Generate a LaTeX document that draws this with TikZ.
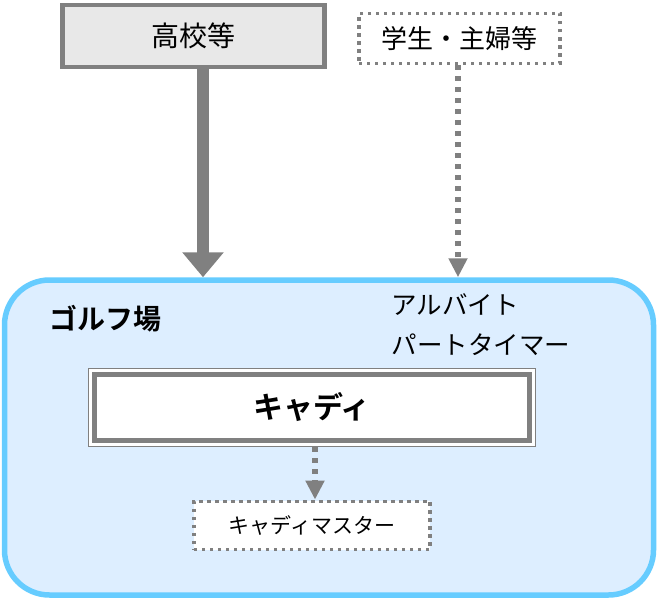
\documentclass[tikz,border=0pt]{standalone}
\usepackage{fontspec}
\setmainfont{Noto Sans CJK JP}[BoldFont={Noto Sans CJK JP Bold}]
\usepackage{xcolor}
\usetikzlibrary{arrows.meta,positioning}
\definecolor{linegray}{HTML}{808080}
\definecolor{srcfill}{HTML}{E8E8E8}
\definecolor{golfline}{HTML}{66CCFF}
\definecolor{golffill}{HTML}{DDEEFF}

\begin{document}
\begin{tikzpicture}[
  x=1pt,y=-1pt,
  src/.style={draw=linegray,line width=4.5pt,fill=srcfill,inner sep=0pt,
    minimum width=262pt,minimum height=62pt,font=\fontsize{28}{32}\selectfont},
  dotbox/.style={draw=linegray,line width=3.3pt,dash pattern=on 3.3pt off 4.7pt,
    fill=white,inner sep=0pt},
  golf/.style={draw=golfline,line width=5.5pt,fill=golffill,rounded corners=45pt,
    minimum width=649pt,minimum height=315pt},
  bigptr/.style={-{Triangle[width=40pt,length=25pt]},line width=12pt,draw=linegray},
  dotptr/.style={-{Triangle[width=18pt,length=19pt]},line width=5.5pt,draw=linegray,
    dash pattern=on 5pt off 6pt},
]
\useasboundingbox (0,0) rectangle (658,602);
\node[golf] (golf) at (329,437.5) {};
\node[src] (school) at (193.5,36) {高校等};
\node[dotbox,minimum width=201pt,minimum height=50pt,
  font=\fontsize{26}{30}\selectfont] (student) at (459.5,38.5) {学生・主婦等};
\node[font=\bfseries\fontsize{28}{32}\selectfont,anchor=west] (golfname) at (46,319) {ゴルフ場};
\node[font=\fontsize{25.5}{40}\selectfont,anchor=west,align=left] (parttime) at (388,325)
  {アルバイト\\パートタイマー};
\node[draw=linegray,line width=1.5pt,fill=white,minimum width=447pt,minimum height=78pt]
  (caddyframe) at (312,407.5) {};
\node[draw=linegray,line width=5pt,fill=white,minimum width=435pt,minimum height=66pt,
  font=\bfseries\fontsize{30}{34}\selectfont] (caddy) at (caddyframe.center) {キャディ};
\node[dotbox,minimum width=236pt,minimum height=48.5pt,
  font=\fontsize{21}{25}\selectfont] (master) at (312,525.5) {キャディマスター};
\draw[bigptr] (school.south -| 203,0) -- (golf.north -| 203,0);
\draw[dotptr] (student.south -| 458,0) -- (golf.north -| 458,0);
\draw[dotptr] (caddyframe.south -| 315,0) -- (master.north -| 315,0);
\end{tikzpicture}
\end{document}
